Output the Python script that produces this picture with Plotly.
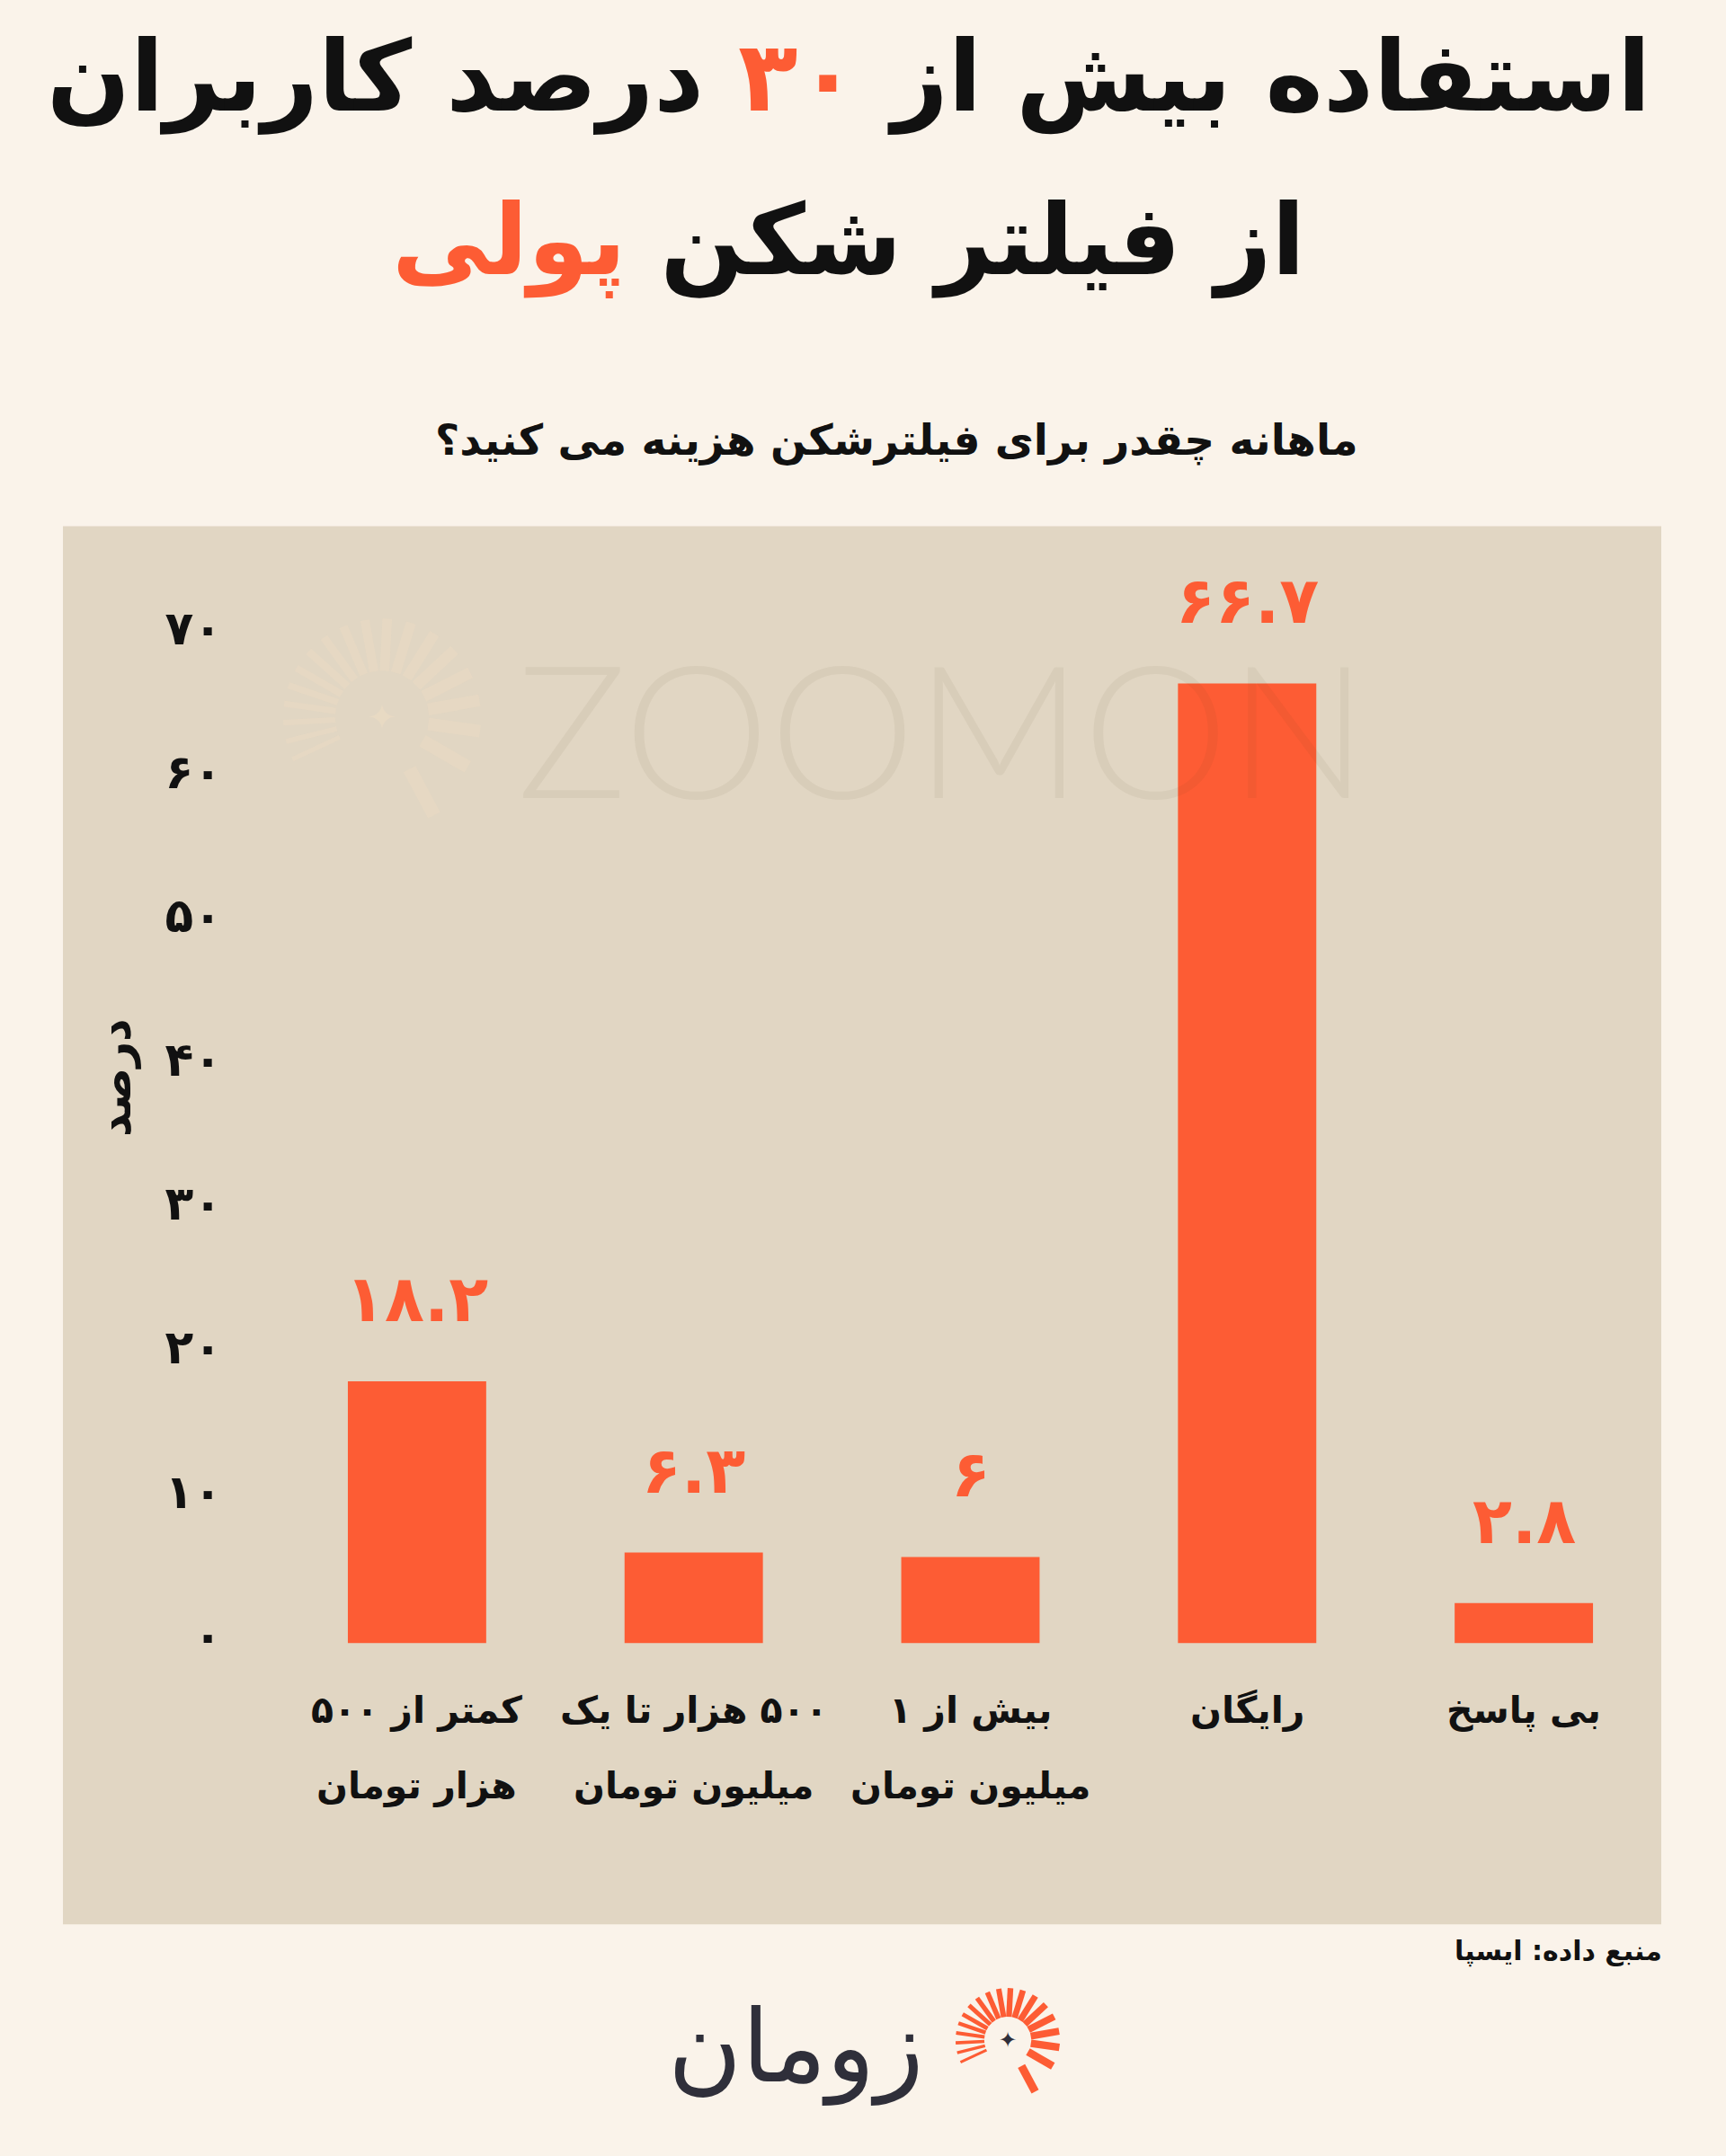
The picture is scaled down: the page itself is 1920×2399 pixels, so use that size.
import math
import plotly.graph_objects as go

# ---------------- data ----------------
cat_line1 = ["کمتر از ۵۰۰", "\u200f۵۰۰ هزار تا یک", "بیش از ۱", "رایگان", "بی پاسخ"]
cat_line2 = ["هزار تومان", "میلیون تومان", "میلیون تومان", "", ""]
values = [18.2, 6.3, 6, 66.7, 2.8]
y_ticks = [0, 10, 20, 30, 40, 50, 60, 70]

title_line1 = ["استفاده بیش از ", "۳۰", " درصد کاربران"]
title_line2 = ["از فیلتر شکن ", "پولی"]
subtitle = "ماهانه چقدر برای فیلترشکن هزینه می کنید؟"
y_title = "درصد"
source = "منبع داده: ایسپا"
logo_text = "زومان"
watermark = "ZOOMON"

# ---------------- style ----------------
W, H = 1920, 2399
BG = "#FAF3EA"
PANEL = "#E1D6C3"
ORANGE = "#FD5C34"
DARK = "#111111"
FONT = "DejaVu Sans"
SY = 1.008  # small vertical placement correction

FA = str.maketrans("0123456789", "۰۱۲۳۴۵۶۷۸۹")


def fa(v):
    s = f"{v:g}"
    return s.translate(FA)


def px(x):
    return x / W


def py(y):
    return 1 - (y * SY) / H


cats = [a + " " + b for a, b in zip(cat_line1, cat_line2)]

fig = go.Figure()
fig.add_trace(go.Bar(x=cats, y=values, marker=dict(color=ORANGE, line=dict(width=0)),
                     hoverinfo="skip"))

annotations = []
shapes = []

# panel
shapes.append(dict(type="rect", xref="paper", yref="paper", x0=px(70), x1=px(1848),
                   y0=py(2143), y1=py(586), fillcolor=PANEL, line=dict(width=0), layer="below"))

# value labels
for c, v in zip(cats, values):
    annotations.append(dict(x=c, y=v, xref="x", yref="y", text="<b>" + fa(v) + "</b>",
                            showarrow=False, yanchor="middle", yshift=92, height=68, valign="middle",
                            font=dict(family=FONT, size=72, color=ORANGE)))

# category labels (two rows)
for c, l1, l2 in zip(cats, cat_line1, cat_line2):
    annotations.append(dict(x=c, y=py(1905), xref="x", yref="paper", text="<b>" + l1 + "</b>",
                            showarrow=False, yanchor="middle",
                            font=dict(family=FONT, size=41, color=DARK)))
    if l2:
        annotations.append(dict(x=c, y=py(1989), xref="x", yref="paper", text="<b>" + l2 + "</b>",
                                showarrow=False, yanchor="middle",
                                font=dict(family=FONT, size=41, color=DARK)))

# titles
t1 = "<b>%s<span style='color:%s'>%s</span>%s</b>" % (title_line1[0], ORANGE, title_line1[1], title_line1[2])
t2 = "<b>%s<span style='color:%s'>%s</span></b>" % (title_line2[0], ORANGE, title_line2[1])
annotations.append(dict(x=px(944), y=py(86), xref="paper", yref="paper", text=t1, showarrow=False,
                        yanchor="middle", font=dict(family=FONT, size=109, color=DARK)))
annotations.append(dict(x=px(944), y=py(268), xref="paper", yref="paper", text=t2, showarrow=False,
                        yanchor="middle", font=dict(family=FONT, size=109, color=DARK)))
annotations.append(dict(x=px(997), y=py(490), xref="paper", yref="paper", text="<b>" + subtitle + "</b>",
                        showarrow=False, yanchor="middle", font=dict(family=FONT, size=47, color=DARK)))

# y title
annotations.append(dict(x=px(128), y=py(1200), xref="paper", yref="paper", text="<b>" + y_title + "</b>",
                        showarrow=False, textangle=-90, xanchor="center", yanchor="middle",
                        font=dict(family=FONT, size=50, color=DARK)))

# source
annotations.append(dict(x=px(1851), y=py(2173), xref="paper", yref="paper", text="<b>" + source + "</b>",
                        showarrow=False, xanchor="right", yanchor="middle",
                        font=dict(family=FONT, size=30, color=DARK)))

# watermark text
annotations.append(dict(x=px(1048), y=py(810), xref="paper", yref="paper", text=watermark,
                        showarrow=False, xanchor="center", yanchor="middle", height=170, valign="middle",
                        font=dict(family="Lato", size=205, color="rgba(90,70,40,0.06)", weight=300)))


def sunburst(cx, cy, r_in, r_out, color, wmin, wmax, star_size, star_color):
    angles = [205, 194, 183, 172, 161, 150, 138, 126, 113, 100, 87, 73, 58, 43, 27, 10, -8, -30, -62]
    n = len(angles)
    for i, a in enumerate(angles):
        t = i / (n - 1)
        w = wmin + (wmax - wmin) * t
        ri = r_in * (1.25 if a == -62 else 1.0)
        ro = r_out * (1.12 if a == -62 else 1.0)
        rad = math.radians(a)
        x0 = cx + ri * math.cos(rad)
        y0 = cy - ri * math.sin(rad)
        x1 = cx + ro * math.cos(rad)
        y1 = cy - ro * math.sin(rad)
        shapes.append(dict(type="line", xref="paper", yref="paper", x0=px(x0), y0=py(y0),
                           x1=px(x1), y1=py(y1), line=dict(color=color, width=w), layer="above"))
    annotations.append(dict(x=px(cx), y=py(cy), xref="paper", yref="paper", text="✦", showarrow=False,
                            xanchor="center", yanchor="middle",
                            font=dict(family=FONT, size=star_size, color=star_color)))


# watermark icon
sunburst(425, 799, 52, 110, "rgba(240,222,195,0.35)", 5, 15, 40, "rgba(240,222,195,0.5)")
# footer logo
sunburst(1121, 2272, 26, 58, ORANGE, 3, 9, 24, "#2F2F3A")
annotations.append(dict(x=px(885), y=py(2280), xref="paper", yref="paper", text=logo_text,
                        showarrow=False, xanchor="center", yanchor="middle",
                        font=dict(family=FONT, size=112, color="#2F2F3A")))

fig.update_layout(
    width=W, height=H,
    margin=dict(l=0, r=0, t=0, b=0),
    paper_bgcolor=BG,
    plot_bgcolor="rgba(0,0,0,0)",
    showlegend=False,
    bargap=0.5,
    annotations=annotations,
    shapes=shapes,
    xaxis=dict(domain=[px(310), px(1849)], range=[-0.5, 4.5], showticklabels=False,
               showgrid=False, zeroline=False, showline=False, ticks="", fixedrange=True),
    yaxis=dict(domain=[py(1830), py(628)], range=[0, 75], tickvals=y_ticks,
               ticktext=["<b>" + fa(v) + "</b>" for v in y_ticks], ticklabelstandoff=62,
               ticklabelshift=-9,
               tickfont=dict(family=FONT, size=52, color=DARK),
               showgrid=False, zeroline=False, showline=False, ticks="", fixedrange=True),
)

fig.write_html("out.html")
